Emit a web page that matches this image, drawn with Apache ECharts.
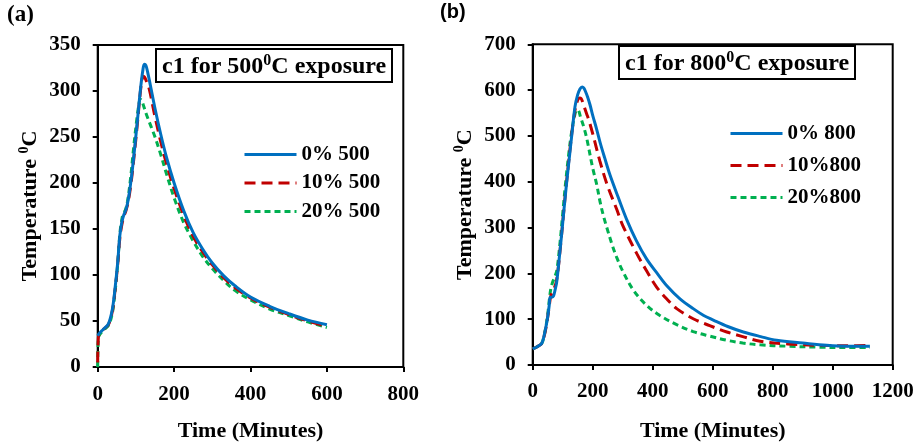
<!DOCTYPE html>
<html>
<head>
<meta charset="utf-8">
<script src="https://cdn.jsdelivr.net/npm/echarts@6/dist/echarts.min.js"></script>
<style>html,body{margin:0;padding:0;background:#fff}#c{width:919px;height:447px}</style>
</head>
<body>
<div id="c"></div>
<script>
// ---------- Panel (a): c1 for 500°C exposure ----------
const a_names = ['0% 500', '10% 500', '20% 500'];
const a0_t = [0,5,15,28,38,45,52,58,63,68,74,80,88,96,104,112,118,122,126,131,138,150,165,180,200,225,250,275,300,330,360,400,450,500,550,600];
const a0_T = [34,37,41,47,62,84,112,143,157,165,171,182,205,235,268,302,322,329,328,320,306,281,253,228,200,170,146,128,113,99,88,76,66,58,51,46];
const a1_t = [0,2,15,28,38,45,52,58,63,68,74,80,88,96,104,110,115,119,123,128,135,150,165,180,200,225,250,275,300,330,360,400,450,500,550,600];
const a1_T = [5,33,41,46,60,82,110,140,154,163,170,180,202,232,265,292,310,316,315,310,302,272,245,221,194,165,142,125,111,97,86,75,65,57,50,44];
const a2_t = [0,2,15,28,38,45,52,58,63,67,72,78,86,94,102,108,111,115,120,128,140,150,165,180,200,225,250,275,300,330,360,400,450,500,550,600];
const a2_T = [0,32,40,45,58,80,110,145,160,167,170,180,205,238,268,286,291,290,284,274,261,250,231,210,184,157,137,120,107,94,83,73,63,56,49,43];
const a_xTicks = {min: 0, max: 800, interval: 200};
const a_yTicks = {min: 0, max: 350, interval: 50};

// ---------- Panel (b): c1 for 800°C exposure ----------
const b_names = ['0% 800', '10%800', '20%800'];
const b0_t = [0,15,30,40,49,55,58,64,69,75,80,88,97,108,119,130,141,150,158,165,170,176,183,191,200,213,225,240,258,285,313,345,380,415,447,490,535,570,602,650,702,760,813,900,980,1050,1124];
const b0_T = [35,40,47,70,101,130,148,148,150,165,181,230,289,365,434,500,564,590,603,607,605,597,585,568,545,515,485,452,414,366,318,272,231,200,173,145,123,108,98,84,72,62,54,48,43,41,41];
const b1_t = [0,15,30,40,49,55,60,66,72,78,84,92,100,110,121,132,142,150,156,161,166,172,180,187,200,224,250,280,300,347,380,413,450,480,535,590,647,700,758,850,950,1050,1124];
const b1_T = [35,40,47,68,100,128,150,160,168,180,205,255,310,380,450,515,560,578,583,582,575,563,548,535,505,445,390,340,305,243,205,170,142,123,101,86,72,62,52,46,43,42,43];
const b2_t = [0,15,30,40,49,55,60,66,72,80,90,100,110,120,130,140,147,153,160,170,180,200,213,225,236,247,265,280,300,336,380,424,480,535,590,647,700,758,850,950,1050,1124];
const b2_T = [35,40,47,70,105,140,165,180,190,205,260,330,400,460,510,545,557,555,540,520,495,430,395,355,325,300,262,235,205,163,130,108,88,73,63,54,48,44,41,39,38,38];
const b_xTicks = {min: 0, max: 1200, interval: 200};
const b_yTicks = {min: 0, max: 700, interval: 100};

const zip = (t, v) => t.map((x, i) => [x, v[i]]);
const SERIF = 'Liberation Serif, Times New Roman, serif';
const colors = ['#0070C0', '#C00000', '#00B050'];
const dashes = ['solid', [11, 6], [6, 4]];
const plain = v => String(v);

function labelStyle(margin) {
  return {color: '#000', fontFamily: SERIF, fontWeight: 'bold', fontSize: 21, margin: margin, formatter: plain};
}
function axisCommon(extra) {
  return Object.assign({
    type: 'value',
    splitLine: {show: false},
    axisLine: {show: true, onZero: false, lineStyle: {color: '#000', width: 2}},
    axisTick: {show: true, inside: false, length: 5, lineStyle: {color: '#000', width: 2}},
    nameLocation: 'middle',
    nameTextStyle: {color: '#000', fontFamily: SERIF, fontWeight: 'bold', fontSize: 22}
  }, extra);
}
const richName = {
  a: {color: '#000', fontFamily: SERIF, fontWeight: 'bold', fontSize: 22, lineHeight: 25},
  s: {color: '#000', fontFamily: SERIF, fontWeight: 'bold', fontSize: 14, lineHeight: 25, verticalAlign: 'top', padding: [0, 0, 8, 0]}
};
const richTitle = {
  a: {color: '#000', fontFamily: SERIF, fontWeight: 'bold', fontSize: 24, lineHeight: 28},
  s: {color: '#000', fontFamily: SERIF, fontWeight: 'bold', fontSize: 16, lineHeight: 28, verticalAlign: 'top', padding: [0, 0, 9, 0]}
};

function mkSeries(name, t, v, idx, k) {
  return {
    name: name, type: 'line', xAxisIndex: k, yAxisIndex: k,
    data: zip(t, v), showSymbol: false, symbol: 'none', smooth: 0.35,
    lineStyle: {color: colors[idx], width: 3, type: dashes[idx]},
    itemStyle: {color: colors[idx]},
    z: 3 - idx
  };
}
const legendText = {color: '#000', fontFamily: SERIF, fontWeight: 'bold', fontSize: 21};

const chart = echarts.init(document.getElementById('c'), null, {renderer: 'canvas'});
chart.setOption({
  animation: false,
  backgroundColor: '#fff',
  title: [
    {text: '{a|c1 for 500}{s|0}{a|C exposure}', left: 156, top: 49, padding: [4, 6, 3, 6],
     borderColor: '#000', borderWidth: 2, backgroundColor: '#fff', textStyle: {rich: richTitle}},
    {text: '{a|c1 for 800}{s|0}{a|C exposure}', left: 619, top: 46, padding: [4, 6, 3, 6],
     borderColor: '#000', borderWidth: 2, backgroundColor: '#fff', textStyle: {rich: richTitle}}
  ],
  grid: [
    {left: 97.7, top: 45, width: 305.6, height: 325, show: true, borderColor: '#000', borderWidth: 2, backgroundColor: 'transparent'},
    {left: 532.7, top: 44.3, width: 360, height: 322.4, show: true, borderColor: '#000', borderWidth: 2, backgroundColor: 'transparent'}
  ],
  xAxis: [
    axisCommon({gridIndex: 0, min: a_xTicks.min, max: a_xTicks.max, interval: a_xTicks.interval, name: 'Time (Minutes)', nameGap: 53, axisLabel: labelStyle(17)}),
    axisCommon({gridIndex: 1, min: b_xTicks.min, max: b_xTicks.max, interval: b_xTicks.interval, name: 'Time (Minutes)', nameGap: 55, axisLabel: labelStyle(16)})
  ],
  yAxis: [
    axisCommon({gridIndex: 0, min: a_yTicks.min, max: a_yTicks.max, interval: a_yTicks.interval, name: '{a|Temperature }{s|0}{a|C}', nameGap: 55,
      nameTextStyle: {rich: richName}, axisLabel: labelStyle(17)}),
    axisCommon({gridIndex: 1, min: b_yTicks.min, max: b_yTicks.max, interval: b_yTicks.interval, name: '{a|Temperature }{s|0}{a|C}', nameGap: 55,
      nameTextStyle: {rich: richName}, axisLabel: labelStyle(17)})
  ],
  legend: [
    {data: a_names, orient: 'vertical', left: 238, top: 139, itemWidth: 52, itemHeight: 20, itemGap: 7.5,
     itemStyle: {opacity: 0}, lineStyle: {width: 3}, textStyle: legendText, selectedMode: false},
    {data: b_names, orient: 'vertical', left: 724, top: 118, itemWidth: 52, itemHeight: 20, itemGap: 11,
     itemStyle: {opacity: 0}, lineStyle: {width: 3}, textStyle: legendText, selectedMode: false}
  ],
  graphic: [
    {type: 'text', left: 7, top: 4, style: {text: '(a)', fill: '#000', font: 'bold 23px ' + SERIF}},
    {type: 'text', left: 440, top: 2, style: {text: '(b)', fill: '#000', font: 'bold 20px Liberation Sans, Arial, sans-serif'}}
  ],
  series: [
    mkSeries(a_names[0], a0_t, a0_T, 0, 0),
    mkSeries(a_names[1], a1_t, a1_T, 1, 0),
    mkSeries(a_names[2], a2_t, a2_T, 2, 0),
    mkSeries(b_names[0], b0_t, b0_T, 0, 1),
    mkSeries(b_names[1], b1_t, b1_T, 1, 1),
    mkSeries(b_names[2], b2_t, b2_T, 2, 1)
  ]
});
</script>
</body>
</html>
